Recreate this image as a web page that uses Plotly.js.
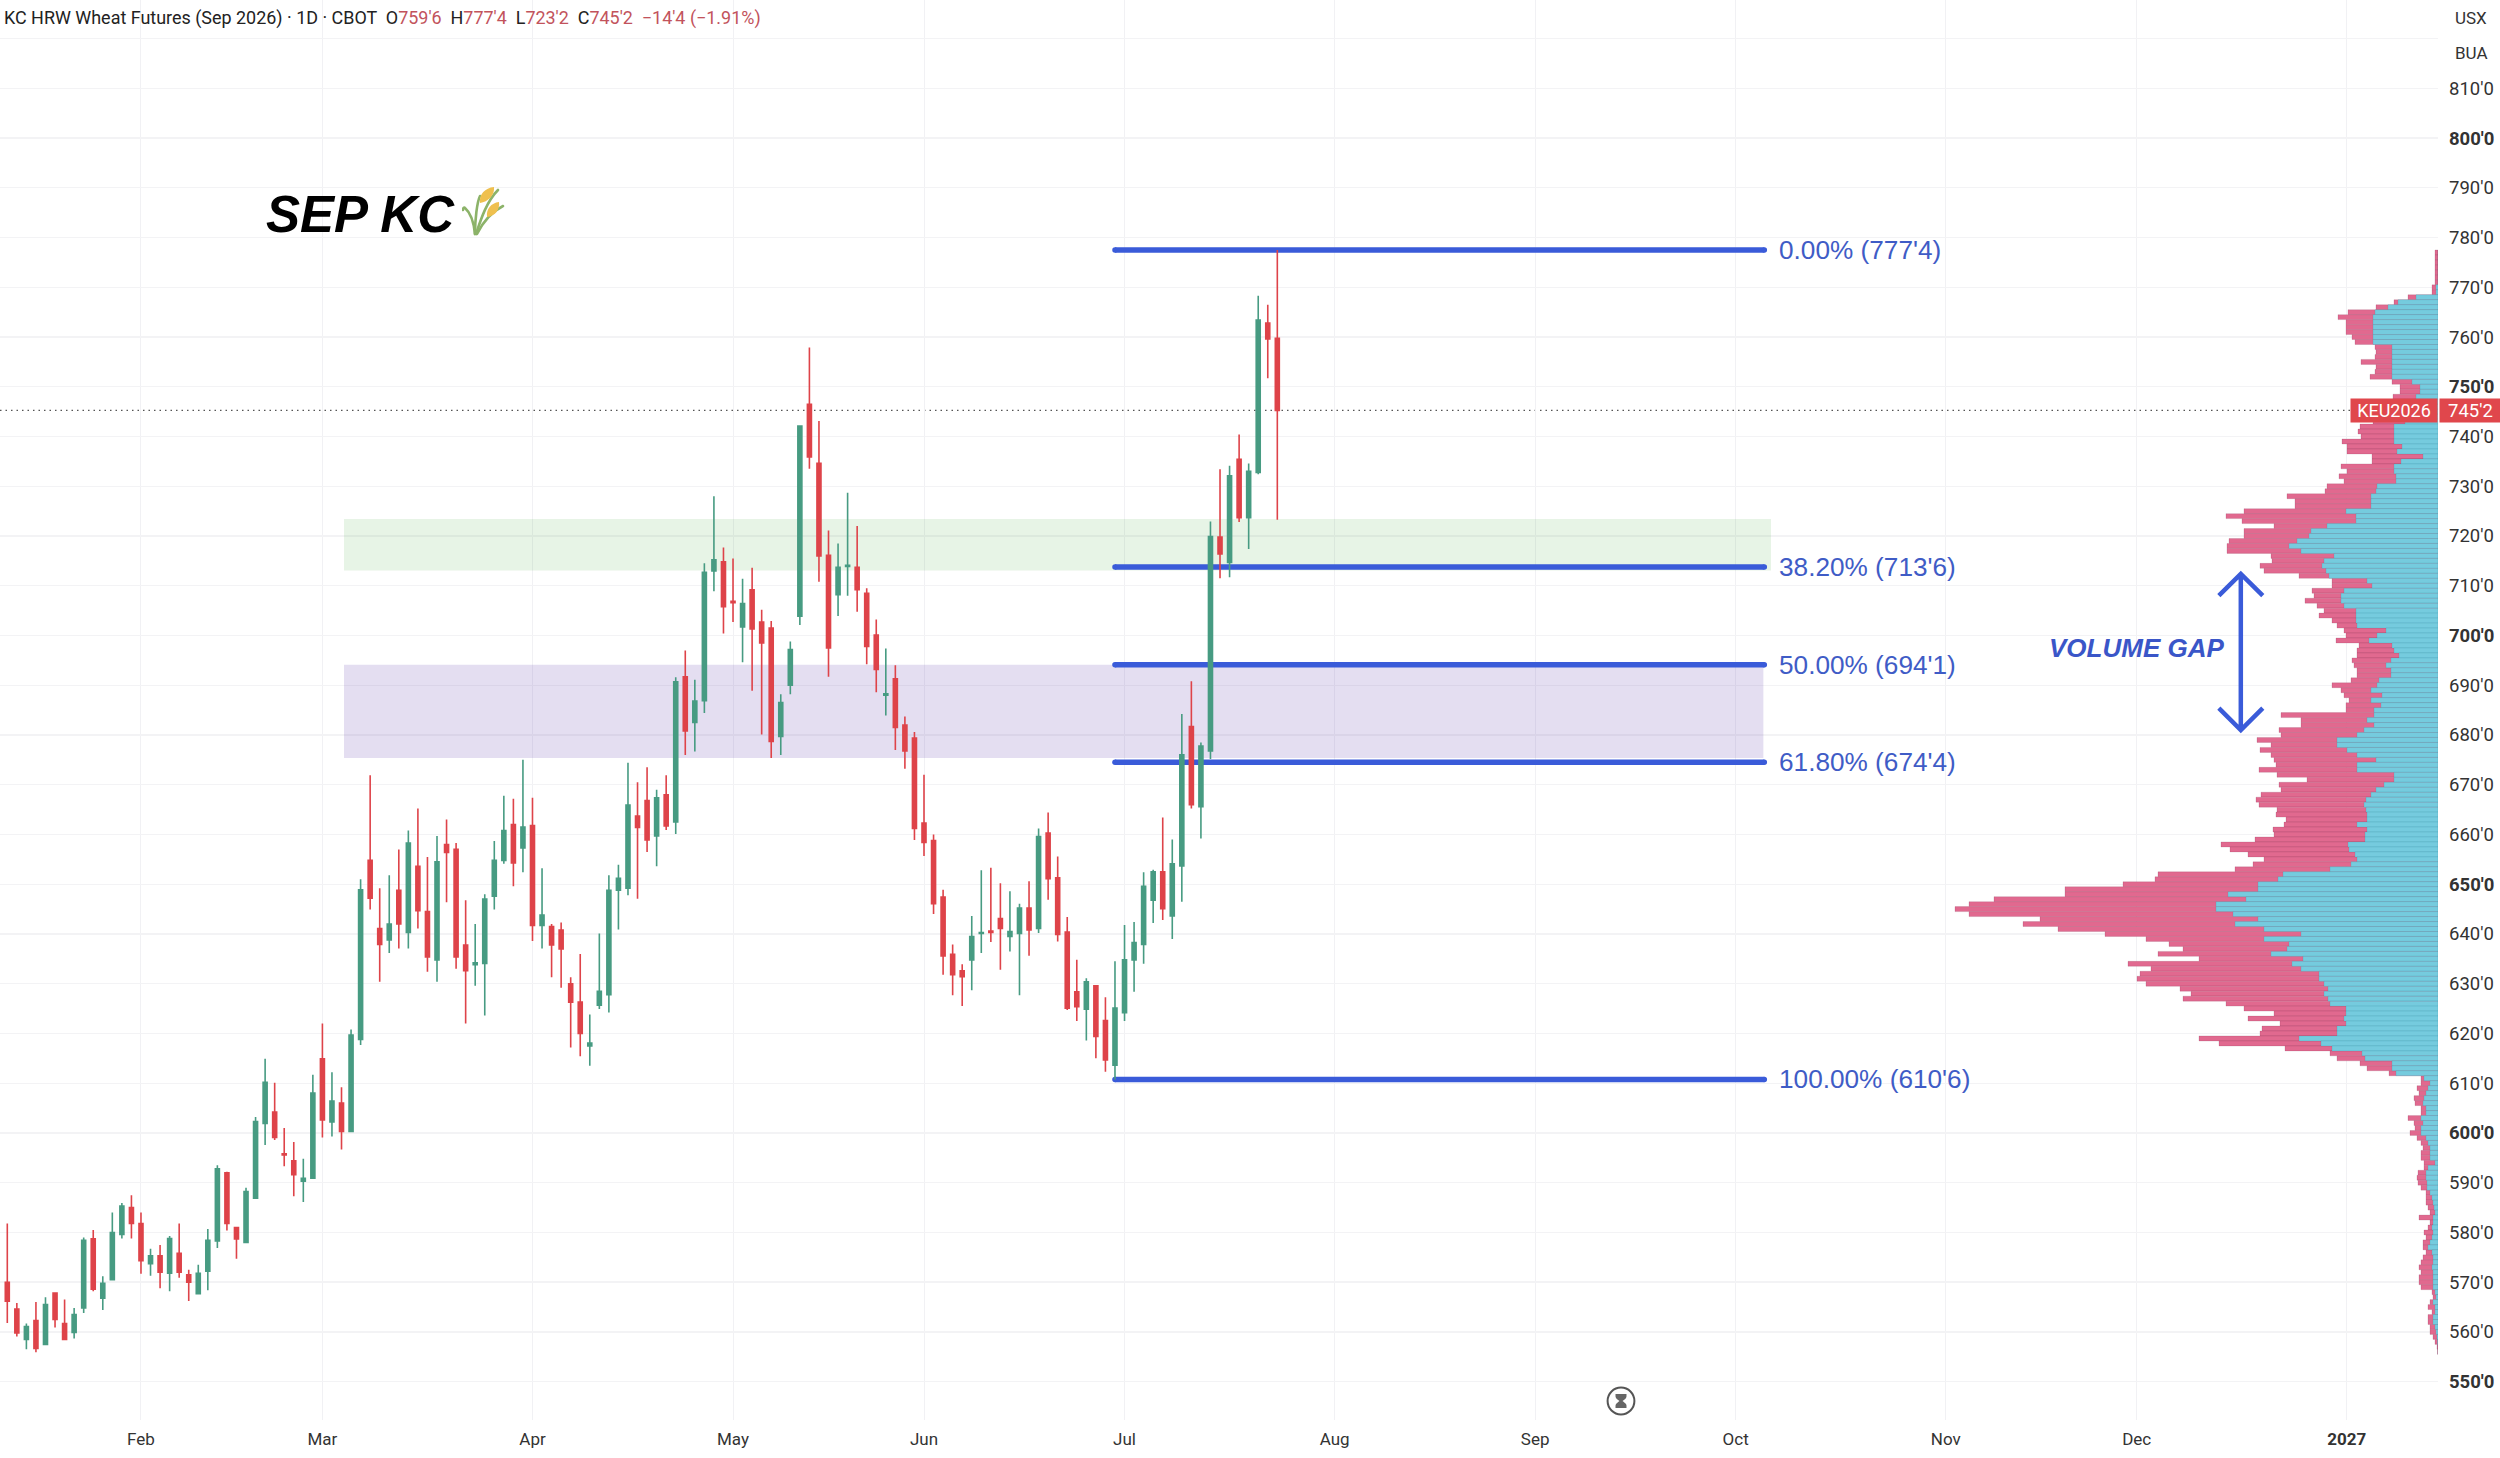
<!DOCTYPE html>
<html><head><meta charset="utf-8">
<script src="https://cdn.plot.ly/plotly-3.0.1.min.js"></script>
<style>html,body{margin:0;padding:0;background:#fff}#c{width:2500px;height:1458px}</style>
</head><body><div id="c"></div>
<script>
const opens=[570.0,564.6,558.5,562.3,557.5,567.8,561.7,559.9,564.8,578.7,566.8,570.5,579.6,585.0,581.8,573.7,575.3,571.8,575.8,571.5,
567.7,572.2,578.3,592.0,581.0,578.0,586.9,601.9,604.2,595.8,594.4,590.3,590.9,614.9,602.2,606.0,600.3,618.8,654.8,641.1,
638.8,648.8,640.3,653.6,644.5,634.8,658.0,657.0,637.8,633.8,634.1,647.6,654.8,662.0,657.3,661.8,641.7,641.5,640.8,630.0,
626.3,617.5,625.7,627.8,648.8,649.2,663.7,666.8,659.7,668.0,662.5,691.7,682.5,686.9,713.0,714.8,706.9,701.7,709.2,702.7,
701.5,679.7,690.0,703.9,746.5,734.6,716.1,708.2,713.9,713.7,708.5,700.1,688.0,691.3,682.0,679.4,662.3,658.8,647.4,635.9,
632.6,634.8,640.1,640.6,643.1,639.5,640.1,645.2,641.1,660.3,651.3,640.4,628.4,624.9,629.6,622.6,613.6,624.2,634.8,637.9,
646.8,652.5,643.6,653.7,681.7,665.6,676.8,719.8,714.7,735.4,723.7,732.8,762.8,759.75];
const highs=[581.8,565.8,561.7,566.0,567.0,568.0,566.5,564.8,579.0,580.5,571.2,584.0,585.9,587.5,584.0,576.7,577.5,579.3,581.8,572.5,
573.5,580.7,593.5,592.2,581.0,589.0,603.2,614.9,610.1,601.0,598.2,594.8,611.7,622.0,612.2,609.2,620.8,651.0,671.9,649.2,
651.8,657.0,660.8,665.2,655.5,659.7,663.0,658.3,646.8,642.0,648.0,658.7,667.8,667.2,675.0,667.4,653.2,642.0,642.3,631.3,
636.0,623.8,640.1,651.8,653.9,674.4,670.5,673.5,669.0,671.9,691.6,697.0,691.1,714.5,728.0,717.7,715.5,711.4,713.6,705.2,
702.9,688.2,698.8,742.2,757.9,743.1,721.1,718.5,728.7,722.0,709.5,703.2,697.4,694.0,683.7,680.6,672.0,660.0,648.9,637.9,
633.9,643.6,652.8,653.3,650.2,648.6,646.1,650.6,661.2,664.4,655.6,643.4,634.8,631.1,629.6,627.3,634.5,641.8,642.4,652.4,
652.9,663.4,659.0,684.2,690.8,678.5,722.9,733.4,734.1,740.4,734.6,768.3,766.5,777.5];
const lows=[561.8,559.1,556.5,555.9,557.5,560.9,558.4,558.7,563.8,568.2,564.4,570.4,578.8,578.8,571.7,571.3,568.8,568.2,570.9,566.2,
567.6,568.4,576.9,580.4,574.7,578.0,586.9,597.6,598.6,593.3,587.3,586.1,590.9,599.1,599.3,596.7,600.3,617.7,644.9,630.4,
636.2,637.1,637.1,641.1,632.4,630.4,646.4,633.0,622.0,629.6,623.6,644.9,654.1,649.6,652.4,638.6,637.1,631.3,629.2,617.2,
615.4,613.5,624.9,624.2,640.9,647.8,647.1,656.5,653.6,660.9,660.1,676.0,676.7,684.4,708.9,700.4,702.7,694.6,688.9,680.1,
675.4,676.0,688.2,702.1,733.5,710.8,691.7,703.9,708.0,704.8,694.2,688.6,683.9,677.0,673.2,658.9,655.7,644.0,631.8,627.7,
625.5,628.7,636.2,638.4,632.8,636.5,627.7,635.6,640.2,646.9,638.5,624.7,622.5,618.6,615.0,612.3,610.75,622.5,628.4,634.0,
642.2,642.8,639.0,646.5,665.2,659.2,675.2,711.5,711.7,722.8,717.4,732.4,751.7,723.25];
const closes=[566.2,559.8,561.1,556.7,565.5,562.5,558.5,563.5,578.4,568.6,569.8,580.0,585.3,581.8,574.3,575.3,572.0,578.8,572.0,570.0,
571.8,578.4,592.8,581.8,578.7,588.2,602.3,610.2,599.1,595.6,591.6,590.9,608.0,602.6,606.4,600.3,619.7,648.9,647.2,637.9,
642.0,642.0,658.3,644.7,635.4,654.5,656.4,635.4,632.6,634.2,647.0,654.8,660.8,654.3,661.5,641.7,643.8,637.8,637.0,626.3,
620.0,618.1,628.5,648.8,651.2,665.9,661.4,658.9,667.4,661.7,690.7,680.8,686.8,712.7,715.2,705.8,706.6,706.4,701.3,698.5,
678.7,686.5,697.2,742.1,735.9,716.0,697.5,713.7,714.1,709.2,697.8,693.2,688.3,681.5,676.8,661.2,658.4,646.1,635.6,631.8,
631.4,639.5,640.3,640.3,641.1,640.5,645.2,640.8,659.6,651.1,639.9,625.1,625.4,630.4,619.4,614.7,625.1,634.8,638.3,649.6,
652.5,645.1,654.1,676.0,666.0,677.8,719.9,716.4,732.1,723.7,733.0,763.4,759.6,745.25];
const barIndex=opens.map((_,i)=>i);

// volume profile, highest row first (777 down to 556): whole width and the blue part
const profileTop=777;
const profileTotal=[3,3,3,3,3,3,3,6,6,30,44,62,90,100,92,92,92,86,83,63,62,63,77,62,63,68,46,38,38,45,46,46,50,55,65,78,80,77,96,91,91,66,66,97,91,99,94,
111,113,151,143,143,194,212,196,164,194,194,209,211,211,167,166,178,174,139,106,106,126,124,133,121,114,119,106,101,94,92,102,79,81,81,86,84,81,81,87,106,97,94,89,92,92,
157,137,137,159,157,181,167,178,167,164,162,179,161,131,159,157,177,182,179,161,162,152,154,165,164,183,217,208,190,174,185,203,280,283,315,373,373,444,469,483,469,398,415,380,333,
292,269,255,280,239,310,287,298,301,292,258,247,255,212,194,164,190,158,176,178,239,219,153,108,101,78,71,49,17,17,21,19,24,23,17,17,30,24,23,28,21,17,15,17,17,14,14,20,21,20,17,
12,12,12,10,8,19,8,10,14,12,15,15,12,15,17,19,17,19,19,17,6,5,8,10,6,10,10,8,8,5,3,1,0.5];
const profileBlue=[0,0,0,0,0,0,0,2,2,22,40,50,63,65,65,65,65,65,65,46,46,46,46,46,46,46,26,18,18,22,24,24,30,32,33,44,44,44,44,36,41,15,37,44,44,42,42,
61,62,67,67,67,92,82,82,111,127,129,141,149,137,104,114,116,112,109,71,66,94,97,97,94,82,82,82,81,52,61,69,46,44,39,47,52,47,47,59,61,67,56,67,57,64,
64,71,64,74,81,101,101,91,81,62,81,81,44,44,54,62,67,72,74,72,71,71,81,71,73,73,90,89,83,81,87,108,155,160,180,180,210,192,222,222,205,180,203,174,137,
174,149,151,167,135,146,137,119,119,114,110,114,110,108,92,92,94,92,101,101,139,117,106,76,73,46,46,42,14,8,10,12,14,15,12,12,17,15,17,17,12,10,8,8,8,3,10,12,12,11,11,
8,6,5,4,3,5,5,6,5,6,8,10,6,5,5,6,5,5,5,5,3,2,5,3,3,5,5,3,2,1,0.5,0,0];
const profilePrices=profileTotal.map((_,i)=>profileTop-i);

const priceTicks=[550,560,570,580,590,600,610,620,630,640,650,660,670,680,690,700,710,720,730,740,750,760,770,780,790,800,810,820];
const priceLabels=["<b>550'0</b>","560'0","570'0","580'0","590'0","<b>600'0</b>","610'0","620'0","630'0","640'0","<b>650'0</b>","660'0","670'0","680'0","690'0","<b>700'0</b>","710'0","720'0","730'0","740'0","<b>750'0</b>","760'0","770'0","780'0","790'0","<b>800'0</b>","810'0",""];
const monthTicks=[14,33,55,76,96,117,139,160,181,203,223,245];
const monthLabels=["Feb","Mar","Apr","May","Jun","Jul","Aug","Sep","Oct","Nov","Dec","<b>2027</b>"];
const fibLevels=[777.5,713.75,694.125,674.5,610.75];
const fibLabels=["0.00% (777'4)","38.20% (713'6)","50.00% (694'1)","61.80% (674'4)","100.00% (610'6)"];
const fibStart=116, fibEnd=184, fibLabelBar=185.3;
const greenZone=[713.05,723.4], purpleZone=[675.4,694.1];
const zoneStart=35.26, greenZoneEnd=184.7, purpleZoneEnd=183.9;
const lastPrice=745.25;

const BLUE='#3A5BD9', GREEN='#479B82', RED='#DE4349', TAG='#E0474C';
const W=2500,H=1458,R=62,B=38,plotW=W-R,plotH=H-B;

const traces=[
 {type:'bar',orientation:'h',x:profileTotal,y:profilePrices,xaxis:'x2',yaxis:'y',width:1,
  marker:{color:'#E1698F',line:{color:'rgba(120,50,80,0.35)',width:0.5}},hoverinfo:'skip'},
 {type:'bar',orientation:'h',x:profileBlue,y:profilePrices,xaxis:'x2',yaxis:'y',width:1,
  marker:{color:'#75CBDE',line:{color:'rgba(40,120,140,0.3)',width:0.5}},hoverinfo:'skip'},
 {type:'candlestick',x:barIndex,open:opens,high:highs,low:lows,close:closes,whiskerwidth:0,
  increasing:{line:{color:GREEN,width:1.6},fillcolor:GREEN},
  decreasing:{line:{color:RED,width:1.6},fillcolor:RED},hoverinfo:'skip'}
];

const shapes=[];
shapes.push({type:'rect',layer:'between',xref:'x',yref:'y',x0:zoneStart,x1:greenZoneEnd,y0:greenZone[0],y1:greenZone[1],line:{width:0},fillcolor:'rgba(76,170,70,0.135)'});
shapes.push({type:'rect',layer:'between',xref:'x',yref:'y',x0:zoneStart,x1:purpleZoneEnd,y0:purpleZone[0],y1:purpleZone[1],line:{width:0},fillcolor:'rgba(105,70,175,0.18)'});
fibLevels.forEach(v=>{
 shapes.push({type:'line',layer:'between',xref:'x',yref:'y',x0:fibStart,x1:fibEnd,y0:v,y1:v,line:{color:BLUE,width:5.5}});
 [fibStart,fibEnd].forEach(a=>shapes.push({type:'circle',layer:'between',xref:'x',yref:'y',xsizemode:'pixel',ysizemode:'pixel',xanchor:a,yanchor:v,x0:-2.75,x1:2.75,y0:-2.75,y1:2.75,fillcolor:BLUE,line:{width:0}}));
});
shapes.push({type:'line',layer:'between',xref:'paper',yref:'y',x0:0,x1:1,y0:lastPrice,y1:lastPrice,line:{color:'#555',width:1.2,dash:'1.5px,4px'}});
shapes.push({type:'path',layer:'above',xref:'x',yref:'y',path:'M231.6,708 L233.9,712.4 L236.2,708 M233.9,712.4 L233.9,681 M231.6,685.4 L233.9,681 L236.2,685.4',line:{color:BLUE,width:4.5}});

const ann=[];
fibLevels.forEach((v,i)=>ann.push({xref:'x',yref:'y',x:fibLabelBar,y:v,text:fibLabels[i],showarrow:false,xanchor:'left',yanchor:'middle',font:{family:'Liberation Sans',size:26.2,color:'#3F5CC6'}}));
ann.push({xref:'paper',yref:'paper',x:2047/plotW,y:(plotH-648)/plotH,text:'<b><i>VOLUME GAP</i></b>',showarrow:false,xanchor:'left',yanchor:'middle',font:{family:'Liberation Sans',size:26,color:'#3A56C8'}});
ann.push({xref:'paper',yref:'paper',x:264/plotW,y:(plotH-214)/plotH,text:'<b><i>SEP KC</i></b>',showarrow:false,xanchor:'left',yanchor:'middle',font:{family:'Liberation Sans',size:51,color:'#000'}});
const v=s=>`<span style="color:#C2535C">${s}</span>`;
ann.push({xref:'paper',yref:'paper',x:2/plotW,y:(plotH-18)/plotH,xanchor:'left',yanchor:'middle',showarrow:false,
 text:"KC HRW Wheat Futures (Sep 2026) · 1D · CBOT  O"+v("759'6")+"  H"+v("777'4")+"  L"+v("723'2")+"  C"+v("745'2")+"  "+v("−14'4 (−1.91%)"),
 font:{family:'Roboto',size:17.95,color:'#222'}});
ann.push({xref:'paper',yref:'paper',x:2471/plotW,y:(plotH-18)/plotH,xanchor:'center',yanchor:'middle',text:'USX',showarrow:false,font:{family:'Roboto',size:17,color:'#333'}});
ann.push({xref:'paper',yref:'paper',x:2471/plotW,y:(plotH-53)/plotH,xanchor:'center',yanchor:'middle',text:'BUA',showarrow:false,font:{family:'Roboto',size:17,color:'#333'}});
ann.push({xref:'paper',yref:'y',x:2394/plotW,y:lastPrice,xanchor:'center',yanchor:'middle',text:'KEU2026',showarrow:false,width:86,height:23,bgcolor:TAG,borderpad:0,font:{family:'Roboto',size:18,color:'#fff'}});
ann.push({xref:'paper',yref:'y',x:2470/plotW,y:lastPrice,xanchor:'center',yanchor:'middle',text:"745'2",showarrow:false,width:61,height:23,bgcolor:TAG,borderpad:0,font:{family:'Roboto',size:18.5,color:'#fff'}});

const wheat='data:image/svg+xml;utf8,'+encodeURIComponent(`<svg xmlns="http://www.w3.org/2000/svg" viewBox="0 0 43 50"><g fill="none" stroke="#8CB369" stroke-width="2.6" stroke-linecap="round"><path d="M13 48C12 38 10 28 3 22C2 21 1 22 1 24"/><path d="M13 48C13 34 15 16 18 10"/><path d="M14 48C18 36 24 16 36 4"/><path d="M15 48C20 38 29 26 41 20"/></g><path d="M18 17C17 8 23 2 32 1C33 9 26 16 18 17Z" fill="#EFC04E"/><path d="M25 31C24 23 29 17 37 16C38 24 33 30 25 31Z" fill="#EFC04E"/></svg>`);
const hourglass='data:image/svg+xml;utf8,'+encodeURIComponent(`<svg xmlns="http://www.w3.org/2000/svg" viewBox="0 0 30 30"><circle cx="15" cy="15" r="13.4" fill="#fff" stroke="#555" stroke-width="2"/><path d="M9.5 8H20.5V10.5C20.5 12.5 17.5 14 16.5 15C17.5 16 20.5 17.5 20.5 19.5V22H9.5V19.5C9.5 17.5 12.5 16 13.5 15C12.5 14 9.5 12.5 9.5 10.5Z" fill="#666"/></svg>`);
const images=[
 {source:wheat,xref:'paper',yref:'paper',x:462/plotW,y:(plotH-186)/plotH,sizex:43/plotW,sizey:50/plotH,sizing:'stretch',xanchor:'left',yanchor:'top',layer:'above'},
 {source:hourglass,xref:'paper',yref:'paper',x:1606/plotW,y:(plotH-1386)/plotH,sizex:30/plotW,sizey:30/plotH,sizing:'stretch',xanchor:'left',yanchor:'top',layer:'above'}
];

const layout={
 width:W,height:H,paper_bgcolor:'#fff',plot_bgcolor:'#fff',showlegend:false,barmode:'overlay',boxgap:0.4,dragmode:false,
 margin:{l:0,r:R,t:0,b:B,pad:0},
 xaxis:{type:'linear',range:[-0.764,254.55],tickmode:'array',tickvals:monthTicks,ticktext:monthLabels,showgrid:true,gridcolor:'#F1F1F4',gridwidth:1,zeroline:false,showline:false,ticks:'',
  rangeslider:{visible:false},tickfont:{family:'Roboto',size:17,color:'#333'},ticklabelstandoff:7},
 xaxis2:{type:'linear',overlaying:'x',range:[plotW,0],visible:false,showgrid:false,zeroline:false},
 yaxis:{side:'right',range:[542.3,827.75],tickmode:'array',tickvals:priceTicks,ticktext:priceLabels,showgrid:true,gridcolor:'#F3F3F5',gridwidth:1.4,zeroline:false,showline:false,ticks:'',
  tickfont:{family:'Roboto',size:18.5,color:'#333'},ticklabelstandoff:10},
 shapes:shapes,annotations:ann,images:images
};
Plotly.newPlot('c',traces,layout,{staticPlot:true,displayModeBar:false,responsive:false});
</script></body></html>
